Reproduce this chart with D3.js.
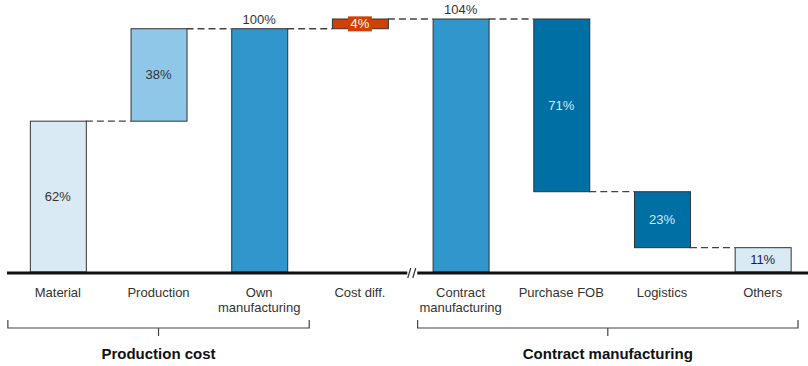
<!DOCTYPE html>
<html>
<head>
<meta charset="utf-8">
<style>
body { margin: 0; background: #fff; }
svg { font-family: "Liberation Sans", Arial, sans-serif; }
.connector { stroke: #444; stroke-width: 1.3; stroke-dasharray: 7,4; fill: none; }
.bar { stroke: #333; stroke-width: 1; }
.cat { font-size: 13px; fill: #333; text-anchor: middle; }
.brace { fill: none; stroke: #444; stroke-width: 1.2; }
.group { font-size: 15px; font-weight: bold; fill: #111; text-anchor: middle; }
</style>
<title>Waterfall</title>
</head>
<body>
<div id="chart"></div>
<script src="https://cdn.jsdelivr.net/npm/d3@7"></script>
<script>
// data
var categories = ["Material", "Production", "Own\nmanufacturing", "Cost diff.",
                  "Contract\nmanufacturing", "Purchase FOB", "Logistics", "Others"];
var values = [62, 38, 100, 4, 104, 71, 23, 11];
// kind: up = stacks on previous, total = from 0, down = subtract from previous
var kinds = ["up", "up", "total", "up", "total", "down", "down", "down"];
var fills = ["#d9eaf5", "#8fc7e8", "#3196cc", "#d24000", "#3196cc", "#006fa3", "#006fa3", "#d9eaf5"];
var labelColors = ["#333", "#333", "#333", "#fff", "#333", "#d4e9f7", "#d4e9f7", "#1c1c50"];
var groups = [
  {name: "Production cost", from: 0, to: 2},
  {name: "Contract manufacturing", from: 4, to: 7}
];

var width = 808, height = 366;

var svg = d3.select("#chart").append("svg")
  .attr("width", width)
  .attr("height", height);

// running sums
var level = 0;
var bars = values.map(function(v, i) {
  var lo, hi;
  if (kinds[i] == "total") { lo = 0; hi = v; level = v; }
  else if (kinds[i] == "up") { lo = level; hi = level + v; level = hi; }
  else { hi = level; lo = Math.max(0, level - v); level = lo; }
  return {i: i, cat: categories[i], v: v, kind: kinds[i], lo: lo, hi: hi,
          end: kinds[i] == "down" ? lo : hi};
});

var x = d3.scaleBand()
  .domain(d3.range(categories.length))
  .range([7.5, 813])
  .paddingInner(0.444)
  .paddingOuter(0.222);

var y = d3.scaleLinear()
  .domain([0, 104])
  .range([272, 19]);

// connectors
for (var k = 0; k < bars.length - 1; k++) {
  var lv = bars[k].end;
  svg.append("line")
    .attr("class", "connector")
    .attr("x1", x(k) + x.bandwidth())
    .attr("x2", x(k + 1))
    .attr("y1", y(lv))
    .attr("y2", y(lv));
}

// bars
svg.selectAll("rect.bar")
  .data(bars)
  .enter().append("rect")
    .attr("class", "bar")
    .attr("x", function(d) { return x(d.i) + 0.5; })
    .attr("y", function(d) { return y(d.hi); })
    .attr("width", x.bandwidth())
    .attr("height", function(d) { return y(d.lo) - y(d.hi); })
    .attr("fill", function(d, i) { return fills[i]; });

// value labels
bars.forEach(function(d, i) {
  var cx = x(i) + x.bandwidth() / 2;
  var lab = d.v + "%";
  var mid = (y(d.lo) + y(d.hi)) / 2;
  if (d.kind == "total") {
    svg.append("text")
      .attr("x", cx).attr("y", y(d.hi) - 5)
      .attr("text-anchor", "middle")
      .attr("font-size", 13)
      .attr("fill", labelColors[i])
      .text(lab);
    return;
  }
  if (y(d.lo) - y(d.hi) < 16) {
    // small bar: boxed label
    svg.append("rect")
      .attr("x", cx - 12).attr("y", mid - 7.5)
      .attr("width", 24).attr("height", 15)
      .attr("fill", fills[i]);
  }
  svg.append("text")
    .attr("x", cx).attr("y", mid + 4.5)
    .attr("text-anchor", "middle")
    .attr("font-size", 13)
    .attr("fill", labelColors[i])
    .text(lab);
});

// baseline with break
var brk = (x(3) + x.bandwidth() + x(4)) / 2;
svg.append("line")
  .attr("x1", 7).attr("x2", brk - 3)
  .attr("y1", y(0) + 1).attr("y2", y(0) + 1)
  .attr("stroke", "#111").attr("stroke-width", 3);
svg.append("line")
  .attr("x1", brk + 7).attr("x2", width)
  .attr("y1", y(0) + 1).attr("y2", y(0) + 1)
  .attr("stroke", "#111").attr("stroke-width", 3);
[-1, 4].forEach(function(dx) {
  svg.append("line")
    .attr("x1", brk + dx - 1.5).attr("x2", brk + dx + 1.5)
    .attr("y1", y(0) + 6).attr("y2", y(0) - 4)
    .attr("stroke", "#333").attr("stroke-width", 1.2);
});

// category labels
bars.forEach(function(d, i) {
  var t = svg.append("text")
    .attr("class", "cat")
    .attr("x", x(i) + x.bandwidth() / 2)
    .attr("y", 297);
  d.cat.split("\n").forEach(function(line, j) {
    t.append("tspan")
      .attr("x", x(i) + x.bandwidth() / 2)
      .attr("dy", j ? 15 : 0)
      .text(line);
  });
});

// group braces
groups.forEach(function(g) {
  var x0 = x(g.from) - 22;
  var x1 = x(g.to) + x.bandwidth() + 22;
  if (g.to == categories.length - 1) x1 = width - 10;
  if (g.from == 4) x0 = x(g.from) - 15;
  var mid = (x0 + x1) / 2;
  var by = 328;
  svg.append("path")
    .attr("class", "brace")
    .attr("d", "M" + x0 + "," + (by - 8) + "V" + by + "H" + x1 + "V" + (by - 8) +
               "M" + mid + "," + by + "V" + (by + 8));
  svg.append("text")
    .attr("class", "group")
    .attr("x", mid)
    .attr("y", 359)
    .text(g.name);
});
</script>
</body>
</html>
